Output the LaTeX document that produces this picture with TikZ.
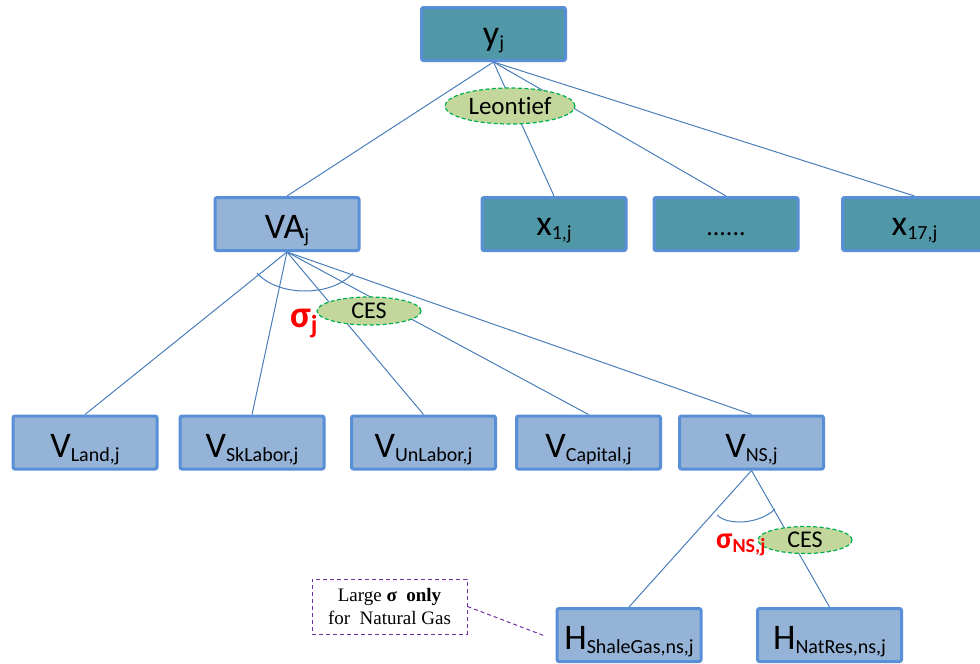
\documentclass[tikz,border=0pt]{standalone}
\usepackage{fontspec}
\setmainfont[Ligatures=NoCommon]{Carlito}
\newfontfamily\notefont{Liberation Serif}
\usetikzlibrary{shapes.geometric,backgrounds}
\definecolor{tealfill}{HTML}{5097A8}
\definecolor{bluefill}{HTML}{95B3D7}
\definecolor{boxborder}{HTML}{588FD6}
\definecolor{linkcol}{HTML}{4A7EBB}
\definecolor{olivefill}{HTML}{C3D69B}
\definecolor{ellborder}{HTML}{00B050}
\definecolor{notecol}{HTML}{7030A0}
\newcommand\lo[1]{\raisebox{-4pt}{\fontsize{20}{20}\selectfont #1}}
\begin{document}
\begin{tikzpicture}[x=1pt,y=-1pt,
  box/.style={draw=boxborder,line width=3pt,rounded corners=2pt,minimum width=144pt,minimum height=53pt,inner sep=0pt,font=\fontsize{36}{36}\selectfont,text height=29pt,text depth=0pt},
  lcbox/.style={text height=25pt,text depth=3pt},
  tealbox/.style={box,fill=tealfill},
  bluebox/.style={box,fill=bluefill},
  fn/.style={ellipse,draw=ellborder,dash pattern=on 4pt off 2.5pt,fill=olivefill,line width=1.2pt,inner sep=0pt},
  link/.style={draw=linkcol,line width=1pt},
  sig/.style={text=red,inner sep=0pt,anchor=base west},
  notedash/.style={draw=notecol,dash pattern=on 4pt off 3pt,line width=1pt},
]
\useasboundingbox (0,0) rectangle (980,664);
% top level
\node[tealbox,lcbox] (yj) at (493.5,34) {y\lo{j}};
\node[bluebox] (va) at (287,224) {VA\lo{j}};
\node[tealbox,lcbox] (x1) at (554,224) {x\lo{1,j}};
\node[tealbox,lcbox,font=\fontsize{26}{26}\selectfont] (dots) at (726,224) {......};
\node[tealbox,lcbox] (x17) at (914.5,224) {x\lo{17,j}};
% value added level
\node[bluebox] (vland) at (85,442.5) {V\lo{Land,j}};
\node[bluebox] (vsk) at (252,442.5) {V\lo{SkLabor,j}};
\node[bluebox] (vun) at (423.5,442.5) {V\lo{UnLabor,j}};
\node[bluebox] (vcap) at (588.5,442.5) {V\lo{Capital,j}};
\node[bluebox] (vns) at (751.5,442.5) {V\lo{NS,j}};
% natural resources level
\node[bluebox] (hsg) at (629,635) {H\lo{ShaleGas,ns,j}};
\node[bluebox] (hnr) at (829.5,635) {H\lo{NatRes,ns,j}};
% function labels
\node[fn,minimum width=130pt,minimum height=36pt,font=\fontsize{25}{25}\selectfont] (leon) at (510,106) {Leontief};
\node[fn,minimum width=104pt,minimum height=28pt,font=\fontsize{24}{24}\selectfont] (ces1) at (369,311) {CES};
\node[fn,minimum width=94pt,minimum height=27pt,font=\fontsize{24}{24}\selectfont] (ces2) at (805,540) {CES};
\node[sig,font=\bfseries\fontsize{38}{38}\selectfont] (s1) at (290,327) {σ\raisebox{-6pt}{\fontsize{26}{26}\selectfont j}};
\node[sig,font=\bfseries\fontsize{30}{30}\selectfont] (s2) at (716,548) {σ\raisebox{-4pt}{\fontsize{20}{20}\selectfont NS,j}};
% note
\node[notedash,minimum width=155pt,minimum height=55pt,inner sep=0pt,align=center,font=\notefont\fontsize{19}{23}\selectfont] (note) at (389.5,606.5) {Large \textbf{σ\ \ only}\\for\ \ Natural Gas};
\coordinate (notetip) at (545,636);
\draw[notedash] (note.east) -- (notetip);
% elasticity arcs
\draw[link] (257,273) .. controls (278,297) and (332,297) .. (353,273);
\draw[link] (717,515) .. controls (728,526) and (760,524) .. (775,509);
% connectors
\begin{pgfonlayer}{background}
\foreach \t in {va,x1,dots,x17} \draw[link] (yj.south) -- (\t.north);
\foreach \t in {vland,vsk,vun,vcap,vns} \draw[link] (va.south) -- (\t.north);
\draw[link] (vns.south) -- (hsg.north);
\draw[link] (vns.south) -- (hnr.north);
\end{pgfonlayer}
\end{tikzpicture}
\end{document}
